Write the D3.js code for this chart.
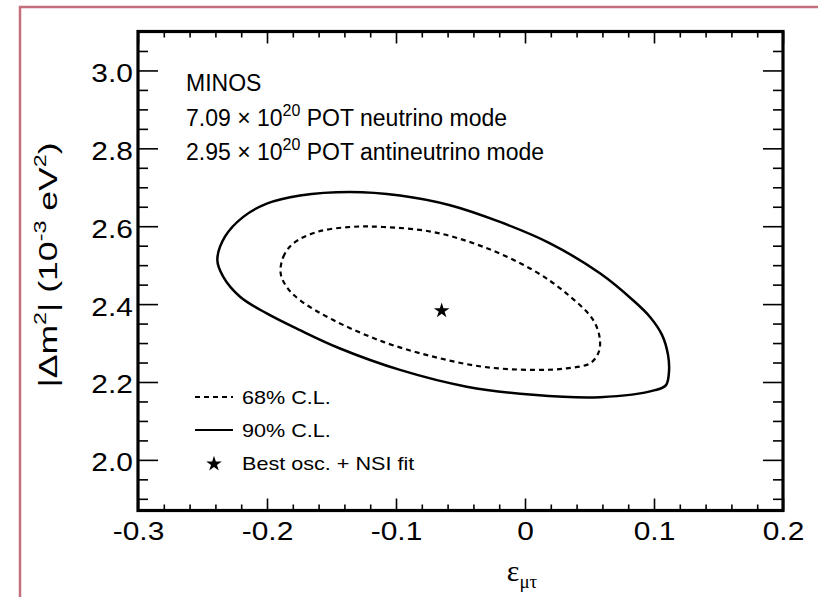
<!DOCTYPE html>
<html>
<head>
<meta charset="utf-8">
<script src="https://cdn.jsdelivr.net/npm/d3@7"></script>
<style>
  body { margin: 0; background: #fff; }
  text { font-family: 'Liberation Sans', Arial, sans-serif; fill: #000; }
</style>
</head>
<body>
<svg width="818" height="597"></svg>
<script>
// contour points (eps_mutau, |dm2| in 1e-3 eV2)
const outerX = [-0.2385, -0.2326, -0.2184, -0.2002, -0.1744, -0.1357, -0.0969, -0.0581, -0.0194, 0.0194,
    0.0581, 0.0837, 0.0969, 0.1062, 0.1109, 0.1116, 0.1093, 0.1008, 0.0581, 0.0062,
    -0.0452, -0.0969, -0.1434, -0.1744, -0.2002, -0.2209, -0.2339];
const outerY = [2.513, 2.573, 2.624, 2.658, 2.679, 2.688, 2.679, 2.654, 2.611, 2.556,
    2.479, 2.410, 2.367, 2.321, 2.269, 2.226, 2.192, 2.179, 2.161, 2.167,
    2.188, 2.231, 2.286, 2.333, 2.376, 2.419, 2.470];
const innerX = [-0.1894, -0.1874, -0.1796, -0.1615, -0.1357, -0.1098, -0.0711, -0.0323, 0.0064, 0.0323,
    0.0529, 0.0581, 0.0568, 0.0504, 0.0323, 0.0064, -0.0323, -0.0711, -0.1098, -0.1486,
    -0.1744, -0.1847];
const innerY = [2.479, 2.521, 2.556, 2.585, 2.598, 2.598, 2.585, 2.547, 2.487, 2.427,
    2.359, 2.308, 2.274, 2.248, 2.235, 2.231, 2.239, 2.265, 2.303, 2.359,
    2.410, 2.444];
const bestFit = [-0.0646, 2.383];

const xTicks = [-0.3, -0.2, -0.1, 0, 0.1, 0.2];
const xTickLabels = ['-0.3', '-0.2', '-0.1', '0', '0.1', '0.2'];
const yTicks = [2.0, 2.2, 2.4, 2.6, 2.8, 3.0];
const yTickLabels = ['2.0', '2.2', '2.4', '2.6', '2.8', '3.0'];
const legendLabels = ['68% C.L.', '90% C.L.', 'Best osc. + NSI fit'];

const svg = d3.select('svg');

// outer pink page border
svg.append('rect')
    .attr('x', 20).attr('y', 7)
    .attr('width', 820).attr('height', 610)
    .attr('fill', 'none')
    .attr('stroke', '#c4707c')
    .attr('stroke-width', 2.5);

const x = d3.scaleLinear().domain([-0.3, 0.2]).range([138, 783]);
const y = d3.scaleLinear().domain([1.87, 3.1]).range([510.5, 31.5]);

const plotLeft = x.range()[0], plotRight = x.range()[1];
const plotTop = y.range()[1], plotBottom = y.range()[0];

const xMinor = d3.range(-0.3, 0.2001, 0.02).filter(v => !xTicks.some(t => Math.abs(t - v) < 1e-6));
const yMinor = d3.range(1.9, 3.1001, 0.05).filter(v => !yTicks.some(t => Math.abs(t - v) < 1e-6));

function tickAxis(axis, tr) {
    const g = svg.append('g').attr('transform', tr).call(axis);
    g.select('.domain').remove();
    g.selectAll('.tick line').attr('stroke', '#000').attr('stroke-width', 1.6);
    return g;
}

// x ticks: bottom (labelled) and top, pointing inward
const xb = tickAxis(d3.axisBottom(x).tickValues(xTicks).tickSize(-12)
    .tickFormat((d, i) => xTickLabels[i]), `translate(0,${plotBottom})`);
xb.selectAll('.tick text').attr('y', 30).attr('dy', null)
    .attr('transform', 'scale(1.15,1)')
    .style('font-size', '26px').style('font-family', "'Liberation Sans', Arial, sans-serif");
tickAxis(d3.axisBottom(x).tickValues(xMinor).tickSize(-6).tickFormat(''), `translate(0,${plotBottom})`);
tickAxis(d3.axisTop(x).tickValues(xTicks).tickSize(-12).tickFormat(''), `translate(0,${plotTop})`);
tickAxis(d3.axisTop(x).tickValues(xMinor).tickSize(-6).tickFormat(''), `translate(0,${plotTop})`);

// y ticks: left (labelled) and right
const yl = tickAxis(d3.axisLeft(y).tickValues(yTicks).tickSize(-20)
    .tickFormat((d, i) => yTickLabels[i]), `translate(${plotLeft},0)`);
yl.selectAll('.tick text').attr('x', -4.5).attr('dy', 11)
    .attr('transform', 'scale(1.15,1)')
    .style('font-size', '26px').style('font-family', "'Liberation Sans', Arial, sans-serif");
tickAxis(d3.axisLeft(y).tickValues(yMinor).tickSize(-10).tickFormat(''), `translate(${plotLeft},0)`);
tickAxis(d3.axisRight(y).tickValues(yTicks).tickSize(-20).tickFormat(''), `translate(${plotRight},0)`);
tickAxis(d3.axisRight(y).tickValues(yMinor).tickSize(-10).tickFormat(''), `translate(${plotRight},0)`);

// frame
svg.append('rect')
    .attr('x', plotLeft).attr('y', plotTop)
    .attr('width', plotRight - plotLeft).attr('height', plotBottom - plotTop)
    .attr('fill', 'none').attr('stroke', '#000').attr('stroke-width', 3.2);

// contours
const line = d3.line()
    .x(d => x(d[0]))
    .y(d => y(d[1]))
    .curve(d3.curveCatmullRomClosed.alpha(0.5));

svg.append('path')
    .attr('d', line(outerX.map((v, i) => [v, outerY[i]])))
    .attr('fill', 'none').attr('stroke', '#000').attr('stroke-width', 2.5);

svg.append('path')
    .attr('d', line(innerX.map((v, i) => [v, innerY[i]])))
    .attr('fill', 'none').attr('stroke', '#000').attr('stroke-width', 2.2)
    .attr('stroke-dasharray', '5,4');

const star = d3.symbol().type(d3.symbolStar).size(75);
svg.append('path')
    .attr('d', star())
    .attr('transform', `translate(${x(bestFit[0])},${y(bestFit[1])})`)
    .attr('fill', '#000');

// info text
const info = svg.append('g').style('font-size', '23px');
info.append('text').attr('x', 186).attr('y', 91).text('MINOS');
const l2 = info.append('text').attr('x', 186).attr('y', 125.5);
l2.append('tspan').text('7.09 \u00d7 10');
l2.append('tspan').attr('dy', -10).style('font-size', '16px').text('20');
l2.append('tspan').attr('dy', 10).text(' POT neutrino mode');
const l3 = info.append('text').attr('x', 186).attr('y', 160);
l3.append('tspan').text('2.95 \u00d7 10');
l3.append('tspan').attr('dy', -10).style('font-size', '16px').text('20');
l3.append('tspan').attr('dy', 10).text(' POT antineutrino mode');

// legend
const legY = [404, 437, 470];
const leg = svg.append('g');
leg.append('line').attr('x1', 195).attr('x2', 233).attr('y1', legY[0] - 7).attr('y2', legY[0] - 7)
    .attr('stroke', '#000').attr('stroke-width', 2).attr('stroke-dasharray', '5,4');
leg.append('line').attr('x1', 195).attr('x2', 233).attr('y1', legY[1] - 7).attr('y2', legY[1] - 7)
    .attr('stroke', '#000').attr('stroke-width', 2);
leg.append('path').attr('d', star()).attr('transform', `translate(214,${legY[2] - 6})`).attr('fill', '#000');
leg.selectAll('text.lab').data(legendLabels).enter().append('text')
    .attr('class', 'lab')
    .attr('transform', (d, i) => `translate(242,${legY[i]}) scale(1.2,1)`)
    .style('font-size', '18px')
    .text(d => d);

// axis titles
const xt = svg.append('text').attr('x', 522).attr('y', 581).attr('text-anchor', 'middle');
xt.append('tspan').style('font-family', "'Liberation Serif', 'Times New Roman', serif").style('font-size', '30px').text('\u03b5');
xt.append('tspan').attr('dy', 7).style('font-family', "'Liberation Serif', 'Times New Roman', serif").style('font-size', '19px').text('\u03bc\u03c4');

const yt = svg.append('text')
    .attr('transform', 'translate(57,265) rotate(-90) scale(1.37,1)')
    .attr('text-anchor', 'middle')
    .style('font-size', '26px');
yt.append('tspan').text('|\u0394m');
yt.append('tspan').attr('dy', -11).style('font-size', '17px').text('2');
yt.append('tspan').attr('dy', 11).text('| (10');
yt.append('tspan').attr('dy', -11).style('font-size', '17px').text('-3');
yt.append('tspan').attr('dy', 11).text(' eV');
yt.append('tspan').attr('dy', -11).style('font-size', '17px').text('2');
yt.append('tspan').attr('dy', 11).text(')');
</script>
</body>
</html>
